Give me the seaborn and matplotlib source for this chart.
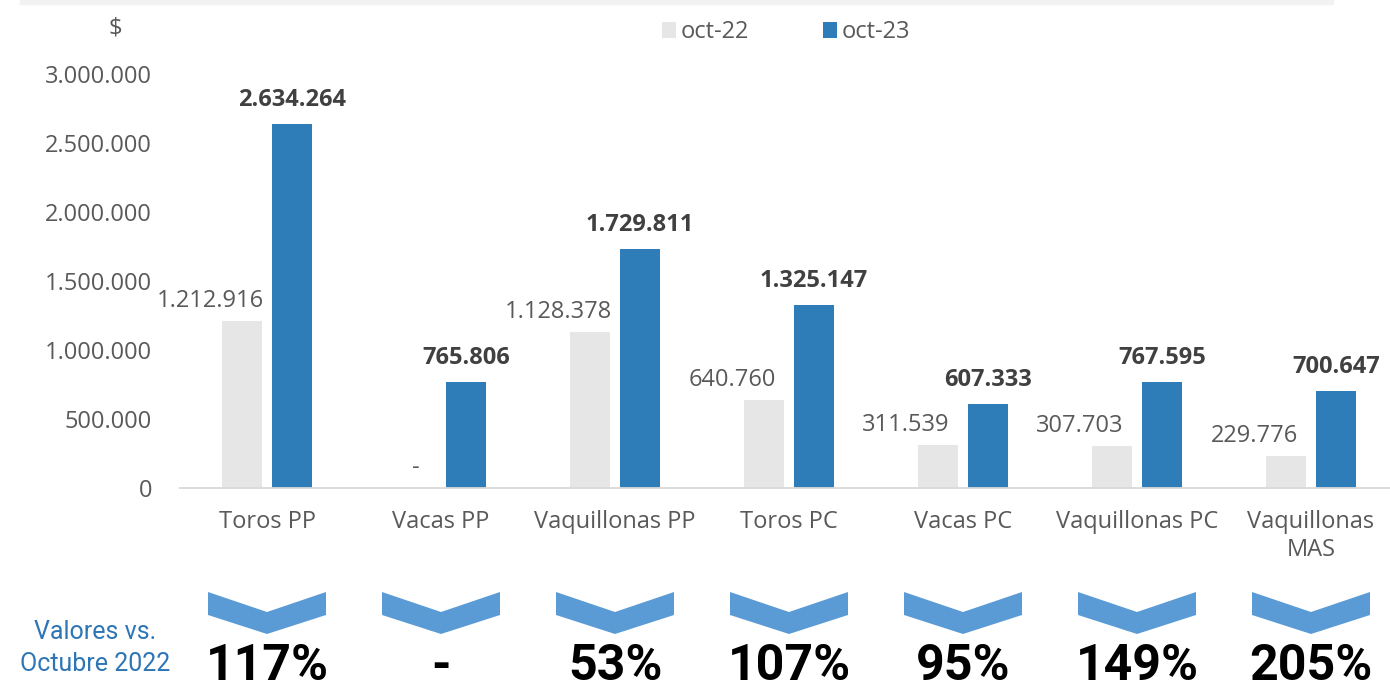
import pandas as pd
import matplotlib
matplotlib.use("Agg")
import matplotlib.pyplot as plt
import seaborn as sns
from matplotlib.patches import Polygon, Rectangle
from matplotlib.transforms import blended_transform_factory

# datos
categorias = ["Toros PP", "Vacas PP", "Vaquillonas PP", "Toros PC",
              "Vacas PC", "Vaquillonas PC", "Vaquillonas\nMAS"]
oct_22 = [1212916, 0, 1128378, 640760, 311539, 307703, 229776]
oct_23 = [2634264, 765806, 1729811, 1325147, 607333, 767595, 700647]
periodos = ["oct-22", "oct-23"]
y_ticks = [0, 500000, 1000000, 1500000, 2000000, 2500000, 3000000]

df = pd.DataFrame({
    "categoria": categorias * 2,
    "periodo": [periodos[0]] * len(categorias) + [periodos[1]] * len(categorias),
    "valor": oct_22 + oct_23,
})

# variacion oct-23 vs oct-22
variacion = []
for a, b in zip(oct_22, oct_23):
    variacion.append("-" if a == 0 else f"{round((b / a - 1) * 100)}%")


def miles(v):
    return "0" if v == 0 else f"{int(v):,}".replace(",", ".")


sns.set_style("white")
plt.rcParams["font.family"] = ["Open Sans", "DejaVu Sans"]

gris_txt = "#595959"
azul = "#2E7DB8"
gris_bar = "#E7E6E6"

W, H = 1390, 691
fig = plt.figure(figsize=(W / 100, H / 100), dpi=100)
ax = fig.add_axes([180 / W, 1 - 488 / H, 1210 / W, 414 / H])

sns.barplot(data=df, x="categoria", y="valor", hue="periodo", order=categorias,
            hue_order=periodos, palette={"oct-22": gris_bar, "oct-23": azul},
            width=0.575, gap=0.2, linewidth=0, saturation=1, ax=ax)

ax.set_xlim(-0.5, 6.454)
ax.set_ylim(0, 3000000)
ax.set_yticks(y_ticks)
ax.set_yticklabels([miles(v) for v in y_ticks])
ax.set_xlabel("")
ax.set_ylabel("")
ax.tick_params(axis="y", length=0, pad=20, labelsize=17, labelcolor=gris_txt)
ax.tick_params(axis="x", length=0, pad=16, labelsize=17, labelcolor=gris_txt)
for s in ["top", "right", "left"]:
    ax.spines[s].set_visible(False)
ax.spines["bottom"].set_color("#D9D9D9")
ax.spines["bottom"].set_linewidth(1.3)

# etiquetas de valores
for bar, v in zip(ax.containers[0], oct_22):
    dx = 0 if v == 0 else -23
    ax.annotate("-" if v == 0 else miles(v),
                (bar.get_x() + bar.get_width() / 2, bar.get_height()),
                xytext=(dx, 10), textcoords="offset points", ha="center",
                va="baseline", fontsize=17, color=gris_txt)
for bar, v in zip(ax.containers[1], oct_23):
    ax.annotate(miles(v), (bar.get_x() + bar.get_width() / 2, bar.get_height()),
                xytext=(0, 13), textcoords="offset points", ha="center",
                va="baseline", fontsize=17, fontweight="bold", color="#404040")

# leyenda
h, l = ax.get_legend_handles_labels()
ax.legend(h, l, loc="center", bbox_to_anchor=(786 / W, 1 - 32 / H),
          bbox_transform=fig.transFigure, ncol=2, frameon=False, fontsize=17,
          handlelength=0.6, handleheight=0.65, handletextpad=0.2,
          columnspacing=3.1, labelcolor=gris_txt)

fig.text(115 / W, 1 - 28 / H, "$", ha="center", va="center", fontsize=17,
         color=gris_txt)

# franja gris superior
fig.patches.append(Rectangle((20 / W, 1 - 4 / H), 1313 / W, 4 / H,
                             transform=fig.transFigure, color="#F2F2F2", zorder=0))

# flechas y variaciones
tr = blended_transform_factory(ax.transData, fig.transFigure)
fy = lambda px: 1 - px / H
hw = 59 / 174

for i, txt in enumerate(variacion):
    verts = [(i - hw, fy(592)), (i, fy(612)), (i + hw, fy(592)),
             (i + hw, fy(615)), (i, fy(634)), (i - hw, fy(615))]
    fig.patches.append(Polygon(verts, closed=True, transform=tr,
                               facecolor="#5B9BD5", edgecolor="none"))
    fig.text(i, fy(690), txt, transform=tr, ha="center", va="bottom",
             family=["Roboto", "DejaVu Sans"], fontweight="bold", fontsize=36,
             color="black")

fig.text(95 / W, fy(648), "Valores vs.\nOctubre 2022", ha="center", va="center",
         family=["Roboto", "DejaVu Sans"], fontsize=18, color="#2E75B6",
         linespacing=1.45)

fig.savefig("out.png", dpi=100)
